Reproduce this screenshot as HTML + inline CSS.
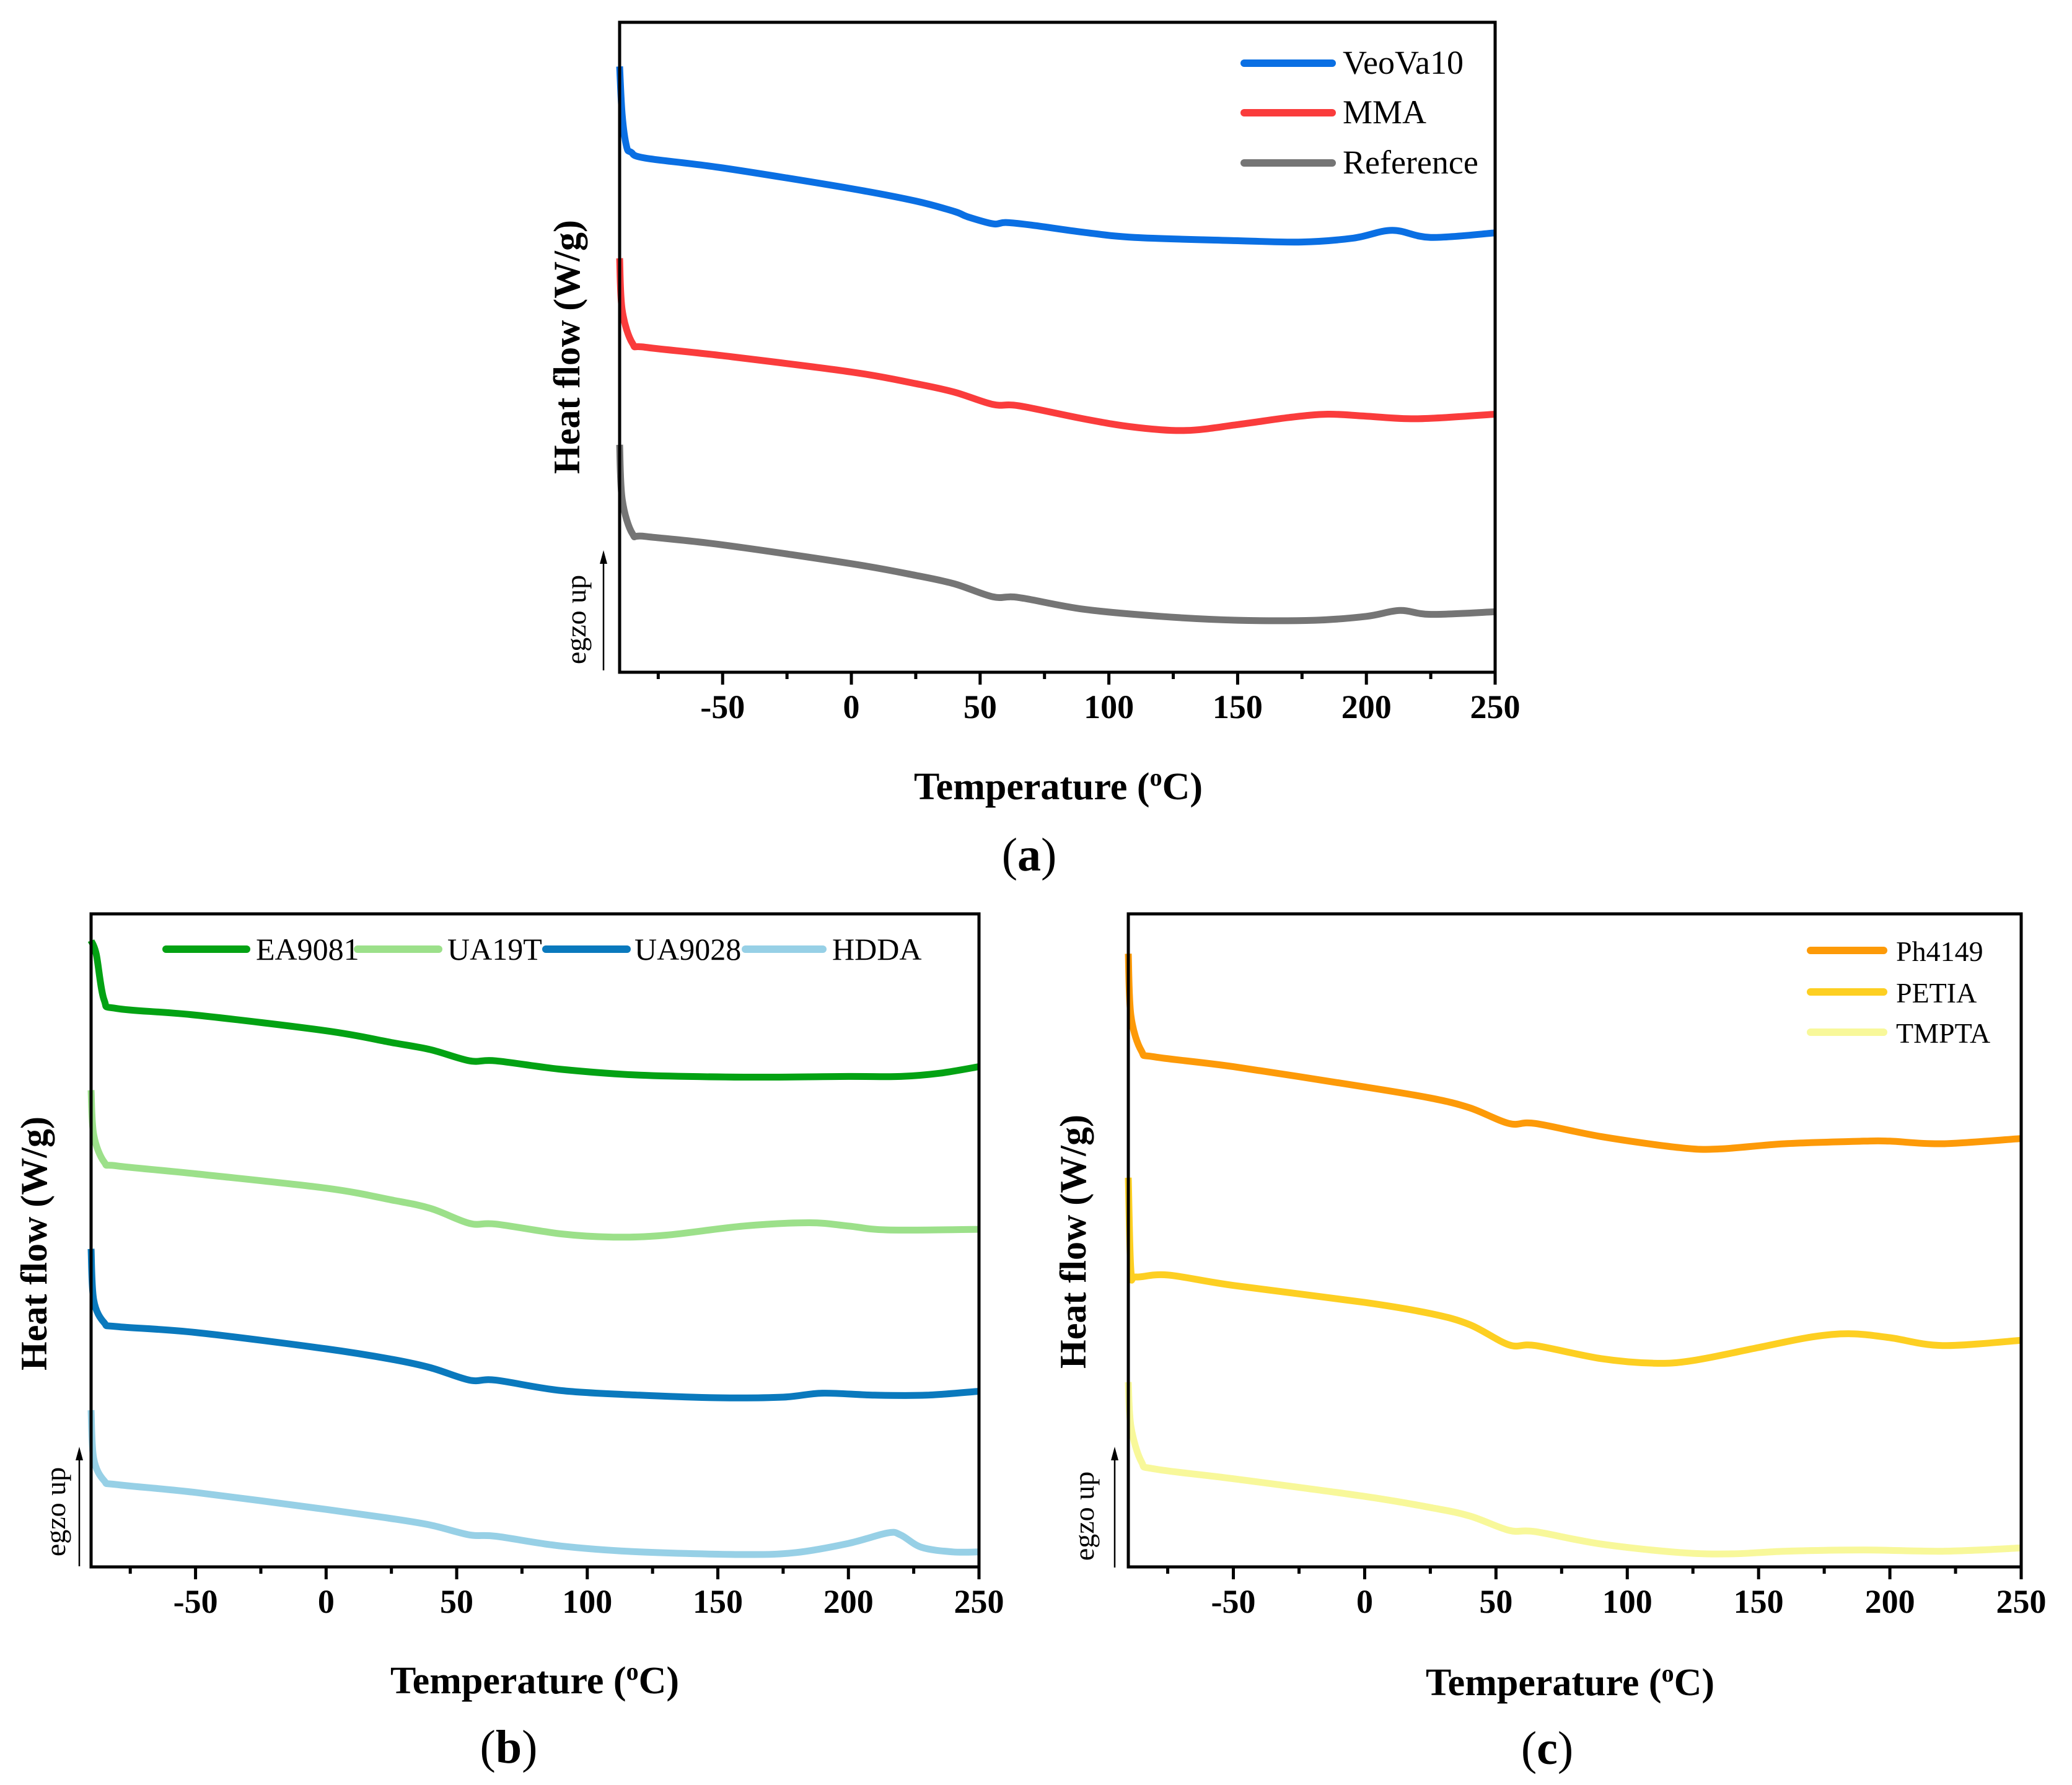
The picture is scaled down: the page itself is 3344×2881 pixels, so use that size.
<!DOCTYPE html>
<html><head><meta charset="utf-8"><style>
html,body{margin:0;padding:0;background:#fff}
svg{display:block}
text{font-family:"Liberation Serif",serif}
</style></head><body>
<svg id="fig" width="3344" height="2881" viewBox="0 0 3344 2881" xmlns="http://www.w3.org/2000/svg"></svg>
<script>
// x-axis
const xTicks = [-50, 0, 50, 100, 150, 200, 250];
const xMinor = [-75, -25, 25, 75, 125, 175, 225];
const xMin = -90, xMax = 250;

// Panel (a) series: temperature points and relative heat-flow (0..100 of frame height)
const aT_Veo = [-90,-89,-87.3,-85.5,-80,-50,0,25,40,45,55,60,70,90,110,150,175,195,210,225,250];
const aV_Veo = [93.2,85.7,80.9,80.0,79.1,77.6,74.4,72.5,70.9,70.1,69.0,69.2,68.8,67.7,66.9,66.4,66.2,66.8,68.0,66.9,67.6];
const aT_MMA = [-90,-89,-85,-80,-50,0,25,40,55,65,90,110,130,150,170,185,200,220,250];
const aV_MMA = [63.7,55.7,50.6,50.0,48.7,46.2,44.4,43.1,41.2,41.0,39.0,37.7,37.2,38.1,39.2,39.7,39.4,39.0,39.7];
const aT_Ref = [-90,-89,-85,-80,-50,0,25,40,55,65,90,120,150,180,200,213,225,250];
const aV_Ref = [35.0,26.6,21.3,20.9,19.6,16.7,14.9,13.6,11.6,11.5,9.7,8.6,8.0,8.0,8.6,9.5,8.9,9.3];

// Panel (b)
const bT_EA = [-90,-88,-85,-80,-50,0,25,40,55,65,90,120,160,200,220,235,250];
const bV_EA = [95.9,93.8,86.8,85.5,84.5,82.1,80.3,79.2,77.5,77.5,76.2,75.3,75.0,75.1,75.1,75.6,76.6];
const bT_UA19 = [-90,-89,-85,-80,-50,0,25,40,55,65,90,110,130,160,185,200,215,250];
const bV_UA19 = [73.0,66.2,62.0,61.4,60.2,58.0,56.2,54.9,52.6,52.5,51.0,50.5,50.8,52.2,52.7,52.2,51.6,51.7];
const bT_UA90 = [-90,-89,-85,-80,-50,0,25,40,55,65,90,120,150,175,190,210,230,250];
const bV_UA90 = [48.7,40.9,37.4,36.8,35.9,33.4,31.8,30.5,28.6,28.6,27.0,26.3,25.9,26.0,26.6,26.3,26.3,26.9];
const bT_HDDA = [-90,-89,-85,-80,-50,0,25,40,55,65,90,120,160,180,200,215,220,228,240,250];
const bV_HDDA = [24.0,16.6,13.2,12.6,11.4,8.8,7.4,6.4,4.9,4.7,3.2,2.3,1.9,2.2,3.6,5.2,4.9,3.0,2.3,2.3];

// Panel (c)
const cT_Ph = [-90,-89,-85,-80,-50,0,25,40,55,65,90,120,135,160,190,200,220,250];
const cV_Ph = [93.9,84.4,79.0,78.1,76.6,73.5,71.8,70.3,67.9,67.9,65.9,64.2,64.0,64.8,65.2,65.2,64.8,65.6];
const cT_PE = [-90,-89,-87,-75,-50,0,25,40,55,65,90,110,125,150,170,185,200,220,250];
const cV_PE = [59.6,45.3,44.4,44.7,43.1,40.5,38.8,37.1,34.0,33.9,31.9,31.2,31.6,33.6,35.2,35.7,35.1,33.9,34.7];
const cT_TM = [-90,-89,-85,-80,-50,0,25,40,55,65,90,120,140,160,190,220,250];
const cV_TM = [28.3,21.5,16.1,15.0,13.5,10.8,9.1,7.8,5.6,5.4,3.5,2.2,2.0,2.4,2.6,2.4,2.9];

const NS = "http://www.w3.org/2000/svg";
const svg = document.getElementById('fig');
function mk(tag, attrs, parent){const e=document.createElementNS(NS,tag);for(const k in attrs)e.setAttribute(k,attrs[k]);(parent||svg).appendChild(e);return e;}

function smoothPath(pts){
  let d = 'M'+pts[0][0].toFixed(1)+','+pts[0][1].toFixed(1);
  for(let i=0;i<pts.length-1;i++){
    const p0=pts[Math.max(0,i-1)], p1=pts[i], p2=pts[i+1], p3=pts[Math.min(pts.length-1,i+2)];
    const c1x=p1[0]+(p2[0]-p0[0])/6, c1y=p1[1]+(p2[1]-p0[1])/6;
    const c2x=p2[0]-(p3[0]-p1[0])/6, c2y=p2[1]-(p3[1]-p1[1])/6;
    d+='C'+c1x.toFixed(1)+','+c1y.toFixed(1)+' '+c2x.toFixed(1)+','+c2y.toFixed(1)+' '+p2[0].toFixed(1)+','+p2[1].toFixed(1);
  }
  return d;
}

function panel(id, L, T, R, B, series, legend, labels){
  const g = mk('g',{});
  
  
  const xs = t => L + (t - xMin) / (xMax - xMin) * (R - L);
  const ys = v => B - v / 100 * (B - T);
  series.forEach(s=>{
    const pts = s.t.map((t,i)=>[xs(t), ys(s.v[i])]);
    const p = mk('path',{d:smoothPath(pts),fill:'none',stroke:s.color,'stroke-width':11,'stroke-linejoin':'round','stroke-linecap':'butt'},g);
    
    
  });
  const fr = mk('rect',{x:L,y:T,width:R-L,height:B-T,fill:'none',stroke:'#000','stroke-width':5},g);
  
  
  xTicks.forEach(t=>{
    const ln = mk('line',{x1:xs(t),x2:xs(t),y1:B,y2:B+20,stroke:'#000','stroke-width':5},g);
    
    
    const tx = mk('text',{x:xs(t),y:B+74,'text-anchor':'middle','font-size':54,'font-weight':'bold'},g);
    tx.textContent = t;
    
    
  });
  xMinor.forEach(t=>{
    const ln = mk('line',{x1:xs(t),x2:xs(t),y1:B,y2:B+11,stroke:'#000','stroke-width':5},g);
    
    
  });
  legend.forEach(l=>{
    const ln = mk('line',{x1:l.x1,x2:l.x2,y1:l.y,y2:l.y,stroke:l.color,'stroke-width':12,'stroke-linecap':'round'},g);
    
    
    const tx = mk('text',{x:l.tx,y:l.y+17,'font-size':l.fs},g);
    tx.textContent = l.label;
    
    
  });
  const yt = mk('text',{x:0,y:0,'text-anchor':'middle','font-size':60,'font-weight':'bold',transform:`translate(${labels.yx},${labels.yy}) rotate(-90)`},g);
  yt.textContent = 'Heat flow (W/g)';
  
  
  const xt = mk('text',{x:labels.xx,y:labels.xy,'text-anchor':'middle','font-size':62,'font-weight':'bold'},g);
  xt.innerHTML = 'Temperature (<tspan font-size="40" dy="-22">o</tspan><tspan dy="22">C)</tspan>';
  
  
  const eg = mk('text',{x:0,y:0,'text-anchor':'middle','font-size':46,transform:`translate(${labels.ex},${labels.ey}) rotate(-90)`},g);
  eg.textContent = 'egzo up';
  
  
  const ar = mk('line',{x1:labels.ax,x2:labels.ax,y1:labels.ay2,y2:labels.ay1+14,stroke:'#000','stroke-width':2.5},g);
  
  
  const ah = mk('path',{d:`M${labels.ax-6},${labels.ay1+22}L${labels.ax},${labels.ay1}L${labels.ax+6},${labels.ay1+22}Z`,fill:'#000'},g);
  
  
  const pl = mk('text',{x:labels.px,y:labels.py,'text-anchor':'middle','font-size':76},g);
  pl.innerHTML = '(<tspan font-weight="bold">'+id+'</tspan>)';
  
  
}

panel('a',1000,36,2413,1085,[
  {name:'VeoVa10',color:'#0a6fe3',t:aT_Veo,v:aV_Veo},
  {name:'MMA',color:'#fa3c3c',t:aT_MMA,v:aV_MMA},
  {name:'Reference',color:'#757575',t:aT_Ref,v:aV_Ref}],
  [{x1:2008,x2:2150,y:102,color:'#0a6fe3',tx:2167,label:'VeoVa10',fs:54},
   {x1:2008,x2:2150,y:182,color:'#fa3c3c',tx:2167,label:'MMA',fs:54},
   {x1:2008,x2:2150,y:263,color:'#757575',tx:2167,label:'Reference',fs:54}],
  {yx:935,yy:560,xx:1708,xy:1290,ex:945,ey:1000,ax:974,ay1:888,ay2:1082,px:1661,py:1405});

panel('b',147,1475,1580,2529,[
  {name:'EA9081',color:'#03a213',t:bT_EA,v:bV_EA},
  {name:'UA19T',color:'#9ce08a',t:bT_UA19,v:bV_UA19},
  {name:'UA9028',color:'#0a79bd',t:bT_UA90,v:bV_UA90},
  {name:'HDDA',color:'#97d0e6',t:bT_HDDA,v:bV_HDDA}],
  [{x1:268,x2:398,y:1532,color:'#03a213',tx:413,label:'EA9081',fs:50},
   {x1:577,x2:708,y:1532,color:'#9ce08a',tx:722,label:'UA19T',fs:50},
   {x1:881,x2:1012,y:1532,color:'#0a79bd',tx:1024,label:'UA9028',fs:50},
   {x1:1203,x2:1328,y:1532,color:'#97d0e6',tx:1343,label:'HDDA',fs:50}],
  {yx:75,yy:2007,xx:863,xy:2733,ex:105,ey:2440,ax:128,ay1:2335,ay2:2528,px:821,py:2845});

panel('c',1821,1475,3262,2529,[
  {name:'Ph4149',color:'#fd9a08',t:cT_Ph,v:cV_Ph},
  {name:'PETIA',color:'#fdcf22',t:cT_PE,v:cV_PE},
  {name:'TMPTA',color:'#f8f89a',t:cT_TM,v:cV_TM}],
  [{x1:2922,x2:3040,y:1534,color:'#fd9a08',tx:3060,label:'Ph4149',fs:46},
   {x1:2922,x2:3040,y:1601,color:'#fdcf22',tx:3060,label:'PETIA',fs:46},
   {x1:2922,x2:3040,y:1666,color:'#f8f89a',tx:3060,label:'TMPTA',fs:46}],
  {yx:1752,yy:2004,xx:2534,xy:2736,ex:1765,ey:2447,ax:1799,ay1:2335,ay2:2530,px:2497,py:2847});
</script>
</body></html>
